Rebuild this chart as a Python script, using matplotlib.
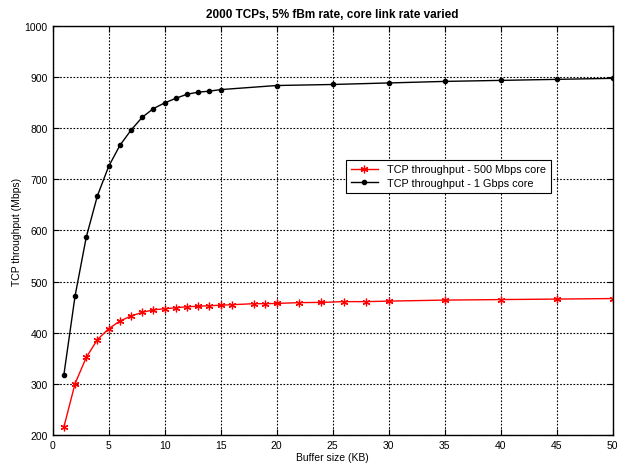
import numpy as np
import matplotlib
matplotlib.use('Agg')
import matplotlib.pyplot as plt

plt.rcParams['font.family'] = ['Liberation Sans', 'DejaVu Sans']

# buffer sizes (KB) and throughput (Mbps)
buf_500 = [1, 2, 3, 4, 5, 6, 7, 8, 9, 10, 11, 12, 13, 14, 15, 16, 18, 19, 20,
           22, 24, 26, 28, 30, 35, 40, 45, 50]
tput_500 = [216, 301, 352, 387, 408, 423, 433, 440, 445, 447, 449, 451, 452,
            453, 454, 455, 457, 457, 457.5, 459, 459.5, 461, 461, 462, 464,
            465, 466, 467]

buf_1g = [1, 2, 3, 4, 5, 6, 7, 8, 9, 10, 11, 12, 13, 14, 15, 20, 25, 30, 35,
          40, 45, 50]
tput_1g = [318, 472, 587, 668, 725, 766, 796, 821, 838, 849, 858, 866, 870,
           872, 875, 883, 885, 888, 891, 893, 895, 897]

fig = plt.figure(figsize=(6.27, 4.64), dpi=100)
ax = fig.add_axes([0.084, 0.0597, 0.893, 0.883])

# asterisk marker like matlab's '*'
ax.plot(buf_500, tput_500, color='red', lw=1, marker=(6, 2, 0), ms=5.5, mew=0.9,
        label='TCP throughput - 500 Mbps core')
ax.plot(buf_1g, tput_1g, color='black', lw=1, marker='.', ms=6,
        label='TCP throughput - 1 Gbps core')

ax.set_xlim(0, 50)
ax.set_ylim(200, 1000)
ax.set_xticks(np.arange(0, 51, 5))
ax.set_yticks(np.arange(200, 1001, 100))
ax.grid(True, color='black', linestyle=(0, (1.5, 1.5)), linewidth=0.8)
ax.tick_params(direction='in', labelsize=7.5, top=True, right=True, length=4)
for s in ax.spines.values():
    s.set_linewidth(1)

ax.set_xlabel('Buffer size (KB)', fontsize=7.5, labelpad=1)
ax.set_ylabel('TCP throughput (Mbps)', fontsize=7.5, labelpad=2)
ax.set_title('2000 TCPs, 5% fBm rate, core link rate varied', fontsize=8.5,
             fontweight='bold', pad=6)

leg = ax.legend(loc='upper left', bbox_to_anchor=(0.524, 0.673), fontsize=7.8,
                fancybox=False, framealpha=1, edgecolor='black',
                borderpad=0.45, handlelength=2.5, labelspacing=0.35,
                borderaxespad=0)
leg.get_frame().set_linewidth(0.8)

fig.savefig('out.png', dpi=100)
